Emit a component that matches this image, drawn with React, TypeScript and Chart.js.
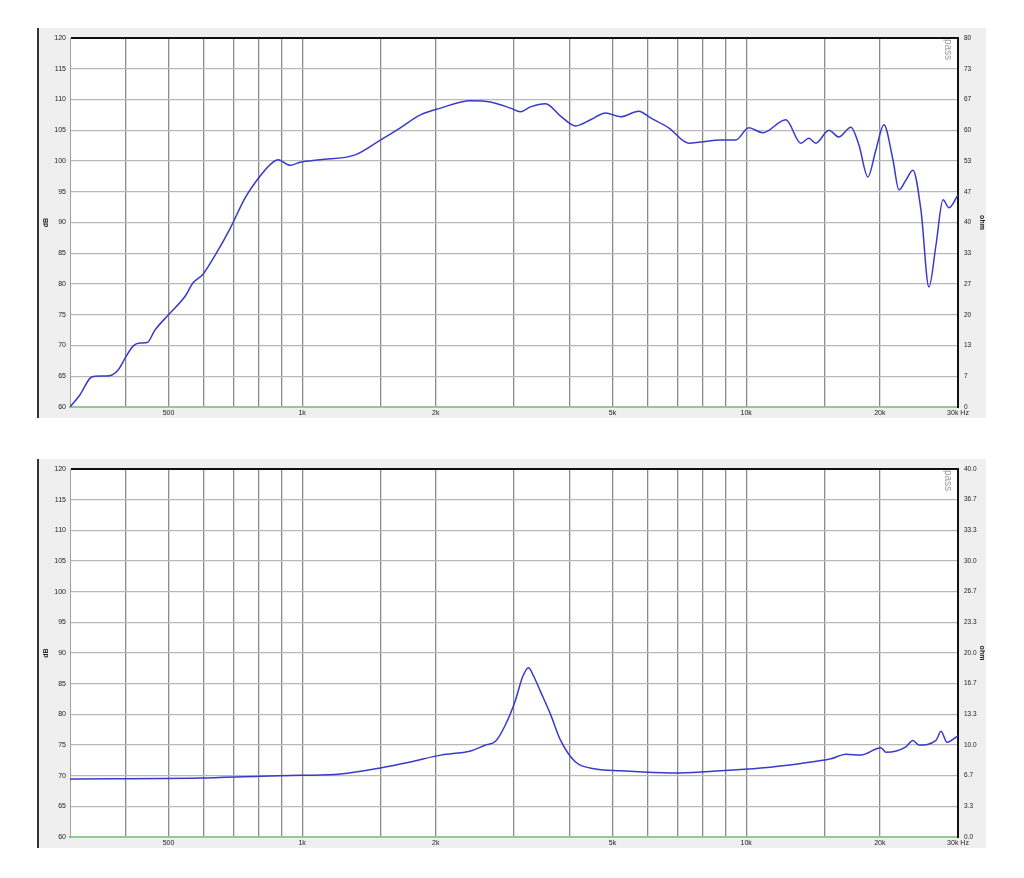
import React, { useEffect, useRef } from "react";
import { Chart, registerables } from "chart.js";
Chart.register(...registerables);

// ---- Data ----
const xGridValues = [300, 400, 500, 600, 700, 800, 900, 1000, 1500, 2000, 3000, 4000, 5000, 6000, 7000, 8000, 9000, 10000, 15000, 20000, 30000];
const xTickLabels = ["", "", "500", "", "", "", "", "1k", "", "2k", "", "", "5k", "", "", "", "", "10k", "", "20k", "30k Hz"];
const dbTicks = [60, 65, 70, 75, 80, 85, 90, 95, 100, 105, 110, 115, 120];
const ohmTopLabels = ["0", "7", "13", "20", "27", "33", "40", "47", "53", "60", "67", "73", "80"];
const ohmBottomLabels = ["0.0", "3.3", "6.7", "10.0", "13.3", "16.7", "20.0", "23.3", "26.7", "30.0", "33.3", "36.7", "40.0"];

const freqResponse = [300, 316, 333, 342, 369, 385, 399, 416, 431, 448, 466, 500, 545, 568, 598, 637, 689, 744, 805, 856, 883, 940, 990, 1098, 1317, 1500, 1664, 1846, 2049, 2393, 2655, 2946, 3102, 3269, 3534, 3820, 4128, 4463, 4825, 5216, 5727, 6095, 6691, 7425, 7903, 8767, 9473, 10139, 10902, 12284, 13279, 13840, 14351, 15357, 16176, 17214, 17948, 18798, 19598, 20430, 21408, 22083, 22899, 23747, 24756, 25806, 26760, 27756, 28629, 30000];
const splValues = [60, 62, 64.7, 65, 65.1, 66, 67.9, 69.9, 70.4, 70.5, 72.5, 75, 78, 80.2, 81.6, 84.7, 89.1, 94, 97.6, 99.7, 100.2, 99.3, 99.8, 100.2, 101, 103.4, 105.4, 107.5, 108.6, 109.8, 109.6, 108.6, 108, 108.8, 109.3, 107.3, 105.7, 106.7, 107.8, 107.2, 108.1, 107, 105.4, 102.9, 103.1, 103.4, 103.4, 105.4, 104.6, 106.7, 102.9, 103.7, 102.9, 105, 103.9, 105.5, 102.6, 97.4, 101.8, 105.9, 100.2, 95.3, 96.9, 98.5, 92, 79.5, 86.3, 93.7, 92.4, 94.5];

const freqImpedance = [300, 589, 805, 990, 1219, 1500, 1753, 2049, 2393, 2588, 2726, 2870, 3024, 3136, 3235, 3320, 3443, 3628, 3820, 4128, 4581, 5216, 6761, 8767, 10788, 13279, 15513, 16770, 18133, 20118, 20646, 22899, 23747, 24497, 26760, 27469, 28334, 30000];
const impedanceValues = [6.3, 6.4, 6.6, 6.7, 6.85, 7.5, 8.15, 8.9, 9.35, 10.0, 10.4, 12.2, 14.9, 17.4, 18.4, 17.5, 15.8, 13.3, 10.5, 8.15, 7.4, 7.2, 6.95, 7.2, 7.5, 8.0, 8.5, 9.0, 8.9, 9.7, 9.2, 9.8, 10.5, 10.0, 10.5, 11.5, 10.3, 11.0];

const FONT = { family: "'Liberation Sans', Arial, sans-serif", size: 7 };
const FONT_R = { family: "'Liberation Sans Narrow', 'Liberation Sans', Arial, sans-serif", size: 6.5 };
const TEXT = "#222";

const bgPlugin = {
  id: "plotBg",
  beforeDraw(chart: any) {
    const { ctx, chartArea } = chart;
    ctx.save();
    ctx.fillStyle = "#ffffff";
    ctx.fillRect(chartArea.left, chartArea.top, chartArea.right - chartArea.left, chartArea.bottom - chartArea.top);
    ctx.restore();
  },
  afterDraw(chart: any) {
    const { ctx, chartArea } = chart;
    ctx.save();
    ctx.translate(chartArea.right - 10, chartArea.top + 1);
    ctx.rotate(Math.PI / 2);
    ctx.fillStyle = "#9a9a9a";
    ctx.font = "10px 'Liberation Sans', Arial, sans-serif";
    ctx.textBaseline = "middle";
    ctx.fillText("pass", 0, 0);
    ctx.restore();
  },
};

function buildConfig(xs: number[], ys: number[], useRight: boolean, rightMax: number, rightLabels: string[]) {
  const points = xs.map((x, i) => ({ x, y: ys[i] }));
  return {
    type: "scatter" as const,
    data: {
      datasets: [
        {
          data: points,
          showLine: true,
          borderColor: "#3a3ac8",
          borderWidth: 1.5,
          pointRadius: 0,
          cubicInterpolationMode: "monotone" as const,
          yAxisID: useRight ? "y1" : "y",
        },
      ],
    },
    options: {
      responsive: false,
      animation: false as const,
      layout: { padding: { top: 10, left: 0, right: 0, bottom: 0 } },
      plugins: { legend: { display: false }, tooltip: { enabled: false } },
      scales: {
        x: {
          type: "logarithmic" as const,
          min: 300,
          max: 30000,
          afterBuildTicks: (s: any) => {
            s.ticks = xGridValues.map((v) => ({ value: v }));
          },
          afterFit: (s: any) => {
            s.height = 11;
          },
          ticks: {
            autoSkip: false,
            maxRotation: 0,
            padding: 2,
            font: FONT,
            color: TEXT,
            callback: (_v: any, i: number) => xTickLabels[i],
          },
          grid: {
            drawTicks: false,
            color: (c: any) => (c.tick && (c.tick.value === 300 || c.tick.value === 30000) ? "rgba(0,0,0,0)" : "#8a8a8a"),
            lineWidth: 1.3,
          },
          border: { color: "#93c993", width: 2 },
        },
        y: {
          type: "linear" as const,
          position: "left" as const,
          min: 60,
          max: 120,
          afterBuildTicks: (s: any) => {
            s.ticks = dbTicks.map((v) => ({ value: v }));
          },
          afterFit: (s: any) => {
            s.width = 31;
          },
          ticks: { padding: 4, font: FONT, color: TEXT, callback: (v: any) => String(v) },
          grid: {
            drawTicks: false,
            color: (c: any) => (c.tick && c.tick.value === 120 ? "#111" : c.tick && c.tick.value === 60 ? "rgba(0,0,0,0)" : "#b8b8b8"),
            lineWidth: (c: any) => (c.tick && c.tick.value === 120 ? 2 : 1.3),
          },
          border: { color: "#a0a0a0", width: 1 },
          title: { display: true, text: "dB", font: { ...FONT, weight: "bold" as const }, color: TEXT, padding: { top: 3, bottom: 0 } },
        },
        y1: {
          type: "linear" as const,
          position: "right" as const,
          min: 0,
          max: rightMax,
          afterBuildTicks: (s: any) => {
            s.ticks = rightLabels.map((_l, i) => ({ value: (i * rightMax) / 12 }));
          },
          afterFit: (s: any) => {
            s.width = 28;
          },
          ticks: { padding: 6, font: FONT_R, color: TEXT, callback: (_v: any, i: number) => rightLabels[i] },
          grid: { display: false, drawTicks: false },
          border: { color: "#111", width: 2 },
          title: { display: true, text: "ohm", font: { ...FONT, weight: "bold" as const }, color: TEXT, padding: { top: 0, bottom: 0 } },
        },
      },
    },
    plugins: [bgPlugin],
  };
}

function Panel(props: { top: number; height: number; xs: number[]; ys: number[]; right: boolean; rightMax: number; rightLabels: string[] }) {
  const ref = useRef<HTMLCanvasElement | null>(null);
  useEffect(() => {
    if (!ref.current) return;
    const chart = new Chart(ref.current, buildConfig(props.xs, props.ys, props.right, props.rightMax, props.rightLabels) as any);
    return () => chart.destroy();
  }, []);
  return (
    <div
      style={{
        position: "absolute",
        left: 37,
        top: props.top,
        width: 947,
        height: props.height,
        background: "#efefef",
        borderLeft: "2px solid #333",
      }}
    >
      <canvas ref={ref} width={947} height={props.height} style={{ display: "block", width: 947, height: props.height }} />
    </div>
  );
}

export default function App() {
  return (
    <div style={{ position: "absolute", left: 0, top: 0, width: 1024, height: 878, background: "#fff" }}>
      <Panel top={28} height={390} xs={freqResponse} ys={splValues} right={false} rightMax={80} rightLabels={ohmTopLabels} />
      <Panel top={459} height={389} xs={freqImpedance} ys={impedanceValues} right={true} rightMax={40} rightLabels={ohmBottomLabels} />
    </div>
  );
}
